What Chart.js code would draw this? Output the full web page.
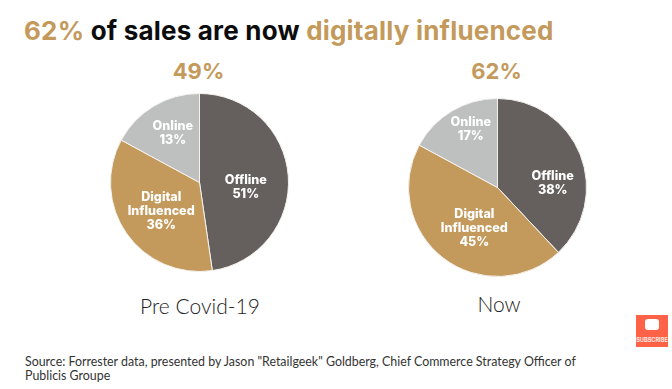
<!DOCTYPE html>
<html><head><meta charset="utf-8">
<script src="https://cdn.jsdelivr.net/npm/chart.js@4"></script>
<style>
html,body{margin:0;padding:0;background:#fff;width:672px;height:389px;overflow:hidden}
body{position:relative;font-family:Inter,Lato,sans-serif}
.t{position:absolute;white-space:nowrap;line-height:1}
canvas{position:absolute}
.gold{color:#C49A5C}
#title{left:24px;top:18px;font-size:26px;font-weight:700;color:#0c0c0c;letter-spacing:.2px}
.head{font-size:22px;font-weight:700;color:#C49A5C;transform:translateX(-50%)}
.cap{font-family:Lato,sans-serif;font-size:21px;font-weight:300;color:#222;transform:translateX(-50%)}
.src{left:25px;font-family:Lato,sans-serif;font-size:12.4px;color:#333}
#sub{position:absolute;left:636px;top:315px;width:32px;height:32px;background:#FF6347}
#sub i{position:absolute;left:9px;top:4px;width:14px;height:11px;background:#fff;border-radius:3px}
#sub b{position:absolute;left:0;right:0;top:22px;text-align:center;font:700 5.6px Inter,sans-serif;color:#ffe9e4}
</style></head><body>
<div id="title" class="t"><span class="gold">62%</span> of sales are now <span class="gold">digitally influenced</span></div>
<div class="t head" id="h1" style="left:198.5px;top:60px"></div>
<div class="t head" id="h2" style="left:496.5px;top:60px"></div>
<canvas id="c1" style="left:100px;top:83px"></canvas>
<canvas id="c2" style="left:398px;top:88px"></canvas>
<div class="t cap" id="p1" style="left:200px;top:295px"></div>
<div class="t cap" id="p2" style="left:499px;top:293px"></div>
<div class="t src" style="top:356px">Source: Forrester data, presented by Jason "Retailgeek" Goldberg, Chief Commerce Strategy Officer of</div>
<div class="t src" style="top:370px">Publicis Groupe</div>
<div id="sub"><i></i><b>SUBSCRIBE</b></div>
<script>
const categories = ["Offline", "Digital Influenced", "Online"];
const periods = ["Pre Covid-19", "Now"];
const headlines = ["49%", "62%"];
// printed percentages
const labelsPre = [51, 36, 13];
const labelsNow = [38, 45, 17];
// slice shares as actually drawn in the picture
const slicesPre = [47.7, 35.2, 17.1];
const slicesNow = [38.0, 44.9, 17.1];
const colors = ["#655F5E", "#C49A5C", "#BEC0C0"];

// label anchor, in units of the pie radius from its centre
const anchorsPre = [[0.52, 0.05], [-0.43, 0.32], [-0.30, -0.55]];
const anchorsNow = [[0.62, -0.05], [-0.26, 0.46], [-0.30, -0.65]];

const sliceText = {
  id: "sliceText",
  afterDatasetsDraw(chart, _a, opts) {
    const ctx = chart.ctx, arc = chart.getDatasetMeta(0).data[0];
    const r = arc.outerRadius, cx = arc.x, cy = arc.y;
    ctx.save();
    ctx.fillStyle = "#fff";
    ctx.font = "800 12.6px Inter, sans-serif";
    ctx.textAlign = "center";
    ctx.textBaseline = "middle";
    categories.forEach((c, i) => {
      const lines = (c === "Digital Influenced" ? ["Digital", "Influenced"] : [c]).concat(opts.values[i] + "%");
      const x = cx + opts.anchors[i][0] * r, y = cy + opts.anchors[i][1] * r;
      lines.forEach((l, k) => ctx.fillText(l, x, y + (k - (lines.length - 1) / 2) * 14));
    });
    ctx.restore();
  }
};

function pie(id, slices, values, anchors) {
  const el = document.getElementById(id);
  el.width = 199; el.height = 199;
  el.style.width = "199px"; el.style.height = "199px";
  return new Chart(el, {
    type: "pie",
    plugins: [sliceText],
    data: { labels: categories, datasets: [{ data: slices, backgroundColor: colors, borderColor: "#f4f2ee", borderWidth: 1 }] },
    options: {
      responsive: false, animation: false,
      layout: { padding: 10 },
      plugins: { legend: { display: false }, tooltip: { enabled: false }, sliceText: { values, anchors } }
    }
  });
}
document.getElementById("h1").textContent = headlines[0];
document.getElementById("h2").textContent = headlines[1];
document.getElementById("p1").textContent = periods[0];
document.getElementById("p2").textContent = periods[1];
pie("c1", slicesPre, labelsPre, anchorsPre);
pie("c2", slicesNow, labelsNow, anchorsNow);
</script>
</body></html>
